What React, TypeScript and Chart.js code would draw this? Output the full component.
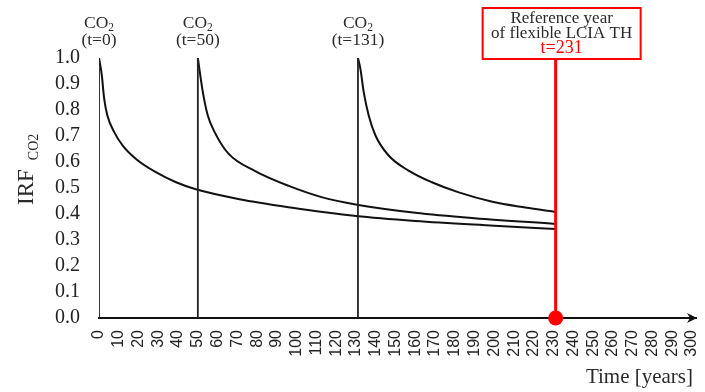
import React, { useEffect, useRef } from "react";
import { Chart, registerables } from "chart.js";

Chart.register(...registerables);

// Emission pulses (years) and the reference year of the flexible LCIA time horizon
const emissionYears = [0, 50, 131];
const referenceYear = 231;
const refBoxLines = ["Reference year", "of flexible LCIA TH"];

// IRF curve of the pulse emitted at t=0
const curve1Years = [0, 1.4, 2.6, 4.2, 7.7, 12, 19, 29, 39, 49, 71, 97, 130, 160, 200, 231];
const curve1Values = [1.0, 0.935, 0.845, 0.78, 0.715, 0.663, 0.61, 0.56, 0.522, 0.495, 0.457, 0.425, 0.392, 0.373, 0.355, 0.342];

// IRF curve of the pulse emitted at t=50
const curve2Years = [50, 52.5, 55, 58.5, 65.5, 79, 96, 113, 130.5, 160, 190, 231];
const curve2Values = [1.0, 0.87, 0.78, 0.715, 0.632, 0.565, 0.508, 0.464, 0.436, 0.405, 0.384, 0.362];

// IRF curve of the pulse emitted at t=131
const curve3Years = [131, 132.2, 133.9, 136.4, 139.8, 146.5, 156.6, 168.4, 182, 199, 215.6, 231];
const curve3Values = [1.0, 0.96, 0.87, 0.78, 0.703, 0.625, 0.567, 0.522, 0.483, 0.447, 0.425, 0.408];

const xTickMax = 300;
const xAxisEnd = 302;

const toPoints = (xs: number[], ys: number[]) => xs.map((x, i) => ({ x, y: ys[i] }));

export default function App() {
  const ref = useRef<HTMLCanvasElement>(null);

  useEffect(() => {
    document.body.style.margin = "0";
    const canvas = ref.current!;
    const black = "#111111";
    const textColor = "#2a2a2a";
    const serif = '"Liberation Serif", "DejaVu Serif", serif';

    const decor = {
      id: "decor",
      afterDatasetsDraw(chart: any) {
        const { ctx, chartArea, scales } = chart;
        const xs = scales.x;
        const ys = scales.y;
        const y0 = ys.getPixelForValue(0);
        ctx.save();

        // arrow head on x axis
        const xr = chartArea.right;
        ctx.fillStyle = black;
        ctx.beginPath();
        ctx.moveTo(xr + 1, y0);
        ctx.lineTo(xr - 9, y0 - 5);
        ctx.lineTo(xr - 6, y0);
        ctx.lineTo(xr - 9, y0 + 5);
        ctx.closePath();
        ctx.fill();

        // reference line and box
        const rx = xs.getPixelForValue(referenceYear);
        const boxTop = 8;
        const boxBottom = 59;
        const bl = rx - 73;
        const bw = 158;
        ctx.strokeStyle = "#ff0000";
        ctx.lineWidth = 3;
        ctx.beginPath();
        ctx.moveTo(rx, y0);
        ctx.lineTo(rx, boxBottom);
        ctx.stroke();
        ctx.fillStyle = "#ffffff";
        ctx.fillRect(bl, boxTop, bw, boxBottom - boxTop);
        ctx.lineWidth = 2;
        ctx.strokeRect(bl, boxTop, bw, boxBottom - boxTop);
        ctx.textAlign = "center";
        ctx.textBaseline = "alphabetic";
        ctx.font = `17px ${serif}`;
        ctx.fillStyle = textColor;
        ctx.fillText(refBoxLines[0], bl + bw / 2, 23);
        ctx.fillText(refBoxLines[1], bl + bw / 2, 38);
        ctx.fillStyle = "#ff0000";
        ctx.font = `18px ${serif}`;
        ctx.fillText(`t=${referenceYear}`, bl + bw / 2, 53);

        // CO2 pulse annotations
        emissionYears.forEach((yr) => {
          const px = xs.getPixelForValue(yr);
          ctx.fillStyle = textColor;
          ctx.font = `17.5px ${serif}`;
          const wCO = ctx.measureText("CO").width;
          ctx.font = `11.5px ${serif}`;
          const w2 = ctx.measureText("2").width;
          const total = wCO + w2;
          ctx.textAlign = "left";
          ctx.font = `17.5px ${serif}`;
          ctx.fillText("CO", px - total / 2, 28);
          ctx.font = `11.5px ${serif}`;
          ctx.fillText("2", px - total / 2 + wCO, 31);
          ctx.textAlign = "center";
          ctx.font = `17.5px ${serif}`;
          ctx.fillText(`(t=${yr})`, px, 45);
        });

        // y axis title IRF_CO2
        ctx.save();
        ctx.translate(33, 205);
        ctx.rotate(-Math.PI / 2);
        ctx.textAlign = "left";
        ctx.fillStyle = textColor;
        ctx.font = `23px ${serif}`;
        ctx.fillText("IRF", 0, 0);
        const wIRF = ctx.measureText("IRF").width;
        ctx.font = `14px ${serif}`;
        ctx.fillText("CO2", wIRF + 9, 5);
        ctx.restore();

        // x axis title
        ctx.textAlign = "right";
        ctx.fillStyle = textColor;
        ctx.font = `21px ${serif}`;
        ctx.fillText("Time [years]", 693, 383);

        ctx.restore();
      },
    };

    const curveStyle = {
      borderColor: black,
      borderWidth: 2,
      pointRadius: 0,
      fill: false,
      cubicInterpolationMode: "monotone" as const,
    };

    const verticals = emissionYears.map((yr) => ({
      data: [
        { x: yr, y: 0 },
        { x: yr, y: 1 },
      ],
      borderColor: "#222222",
      borderWidth: 1.8,
      pointRadius: 0,
      tension: 0,
      fill: false,
    }));

    const chart = new Chart(canvas, {
      type: "line",
      data: {
        datasets: [
          ...verticals,
          { data: toPoints(curve1Years, curve1Values), ...curveStyle },
          { data: toPoints(curve2Years, curve2Values), ...curveStyle },
          { data: toPoints(curve3Years, curve3Values), ...curveStyle },
          {
            data: [{ x: referenceYear, y: 0 }],
            showLine: false,
            pointRadius: 7.5,
            pointBackgroundColor: "#ff0000",
            pointBorderWidth: 0,
            clip: false,
          } as any,
        ],
      },
      options: {
        responsive: false,
        animation: false,
        layout: { padding: { left: 0, right: 9, top: 58, bottom: 0 }, autoPadding: false } as any,
        plugins: { legend: { display: false }, tooltip: { enabled: false } },
        scales: {
          x: {
            type: "linear",
            min: 0,
            max: xAxisEnd,
            grid: { display: false, drawTicks: false },
            border: { display: true, color: black, width: 2 },
            ticks: {
              stepSize: 10,
              includeBounds: false,
              autoSkip: false,
              minRotation: 90,
              maxRotation: 90,
              padding: 12,
              color: "#222222",
              font: { family: '"Liberation Sans", Arial, sans-serif', size: 16 },
              callback: (v: any) => (Number(v) <= xTickMax ? String(v) : ""),
            },
            afterFit: (s: any) => {
              s.height = 74;
              s.paddingLeft = 0;
              s.paddingRight = 0;
            },
          },
          y: {
            min: 0,
            max: 1,
            grid: { display: false, drawTicks: false },
            border: { display: false },
            ticks: {
              stepSize: 0.1,
              autoSkip: false,
              padding: 19,
              color: "#222222",
              font: { family: '"Liberation Serif", serif', size: 20 },
              callback: (v: any) => Number(v).toFixed(1),
            },
            afterFit: (s: any) => {
              s.width = 99;
              s.paddingTop = 0;
              s.paddingBottom = 0;
            },
          },
        },
      } as any,
      plugins: [decor],
    });

    return () => chart.destroy();
  }, []);

  return <canvas ref={ref} width={705} height={392} style={{ display: "block" }} />;
}
